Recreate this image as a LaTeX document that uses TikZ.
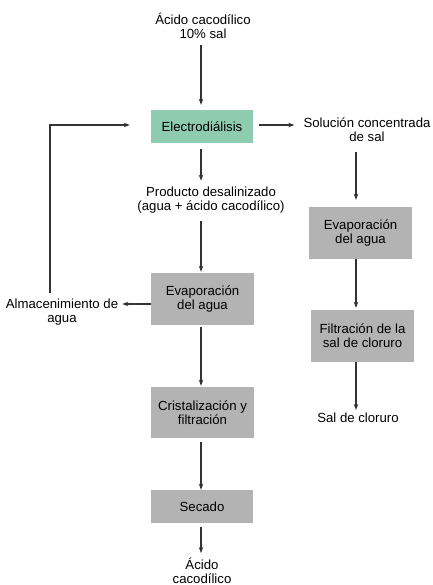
\documentclass[tikz,border=0pt]{standalone}
\usepackage{fontspec}
\setmainfont{Liberation Sans}
\usetikzlibrary{arrows.meta}
\definecolor{boxgreen}{HTML}{8FCBAF}
\definecolor{boxgray}{HTML}{B3B3B3}
\definecolor{arr}{HTML}{333333}
\begin{document}
\begin{tikzpicture}[x=1pt,y=-1pt,
  every node/.style={font=\fontsize{13.2}{14}\selectfont, align=center, inner sep=0pt},
  greenbox/.style={fill=boxgreen, minimum width=102pt, minimum height=33pt},
  graybox/.style={fill=boxgray, minimum width=103pt, minimum height=52pt},
  flow/.style={draw=arr, line width=1.3pt, -{Stealth[length=6pt,width=4.5pt]}}]
\path[use as bounding box] (0,0) rectangle (432,585);

% nodes
\node (top) at (203,26) {Ácido cacodílico\\10\% sal};
\node[greenbox] (ed) at (202,126.5) {Electrodiálisis};
\node (sol) at (367,130) {Solución concentrada\\de sal};
\node (prod) at (211,200) {Producto desalinizado\\(agua + ácido cacodílico)};
\node[graybox] (evL) at (202.5,299) {Evaporación\\del agua};
\node (alm) at (62,312.5) {Almacenimiento de\\agua};
\node[graybox, minimum height=51pt] (crist) at (202.5,412.5) {Cristalización y\\filtración};
\node[greenbox, fill=boxgray] (sec) at (202,506.5) {Secado};
\node (acid) at (202,571) {Ácido\\cacodílico};
\node[graybox] (evR) at (360.5,233) {Evaporación\\del agua};
\node[graybox] (fil) at (362.5,336) {Filtración de la\\sal de cloruro};
\node (sal) at (358,418) {Sal de cloruro};

\coordinate (cL) at (201,0);
\coordinate (cR) at (356,0);
\coordinate (loopstart) at (50,293);
\coordinate (rowE) at (0,125);

% connectors
\draw[flow, shorten <=6pt, shorten >=5pt] (top.south -| cL) -- (ed.north -| cL);
\draw[flow, shorten <=6pt, shorten >=6pt] (ed.south -| cL) -- (prod.north -| cL);
\draw[flow, shorten <=8pt, shorten >=1pt] (prod.south -| cL) -- (evL.north -| cL);
\draw[flow, shorten <=2pt, shorten >=1pt] (evL.south -| cL) -- (crist.north -| cL);
\draw[flow, shorten <=4pt, shorten >=0pt] (crist.south -| cL) -- (sec.north -| cL);
\draw[flow, shorten <=4pt, shorten >=5pt] (sec.south -| cL) -- (acid.north -| cL);
\draw[flow, shorten <=6pt, shorten >=9pt] (ed.east |- rowE) -- (sol.west |- rowE);
\draw[flow, shorten <=0pt, shorten >=4pt] (evL.west |- 0,304) -- (alm.east |- 0,304);
\draw[flow, shorten >=21pt] (loopstart) |- (ed.west |- rowE);
\draw[flow, shorten <=10pt, shorten >=7pt] (sol.south -| cR) -- (evR.north -| cR);
\draw[flow, shorten <=0pt, shorten >=2pt] (evR.south -| cR) -- (fil.north -| cR);
\draw[flow, shorten <=0pt, shorten >=3pt] (fil.south -| cR) -- (sal.north -| cR);
\end{tikzpicture}
\end{document}
